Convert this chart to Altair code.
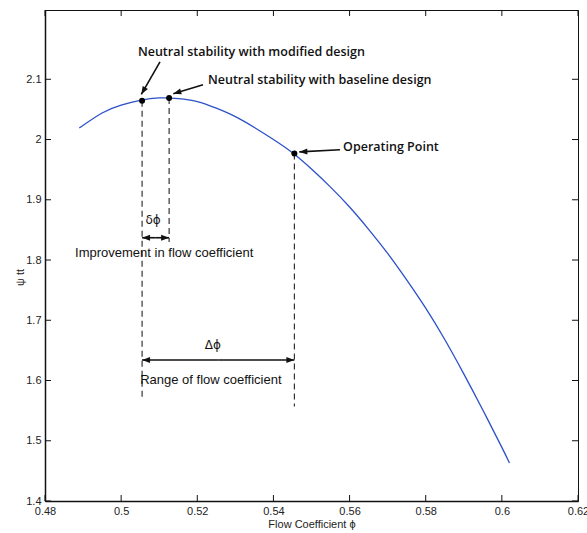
import math
import altair as alt
import pandas as pd

# Total-to-total pressure rise characteristic vs. flow coefficient
phi = [0.489, 0.495, 0.500, 0.505, 0.510, 0.515, 0.520, 0.525, 0.530, 0.535,
       0.540, 0.545, 0.550, 0.555, 0.560, 0.565, 0.570, 0.575, 0.580, 0.585,
       0.590, 0.595, 0.600, 0.602]
psi = [2.019, 2.044, 2.057, 2.065, 2.069, 2.068, 2.063, 2.052, 2.038, 2.020,
       2.000, 1.978, 1.951, 1.921, 1.888, 1.851, 1.811, 1.767, 1.720, 1.668,
       1.611, 1.551, 1.489, 1.463]

# Key operating conditions: modified design, baseline design, operating point
marker_phi = [0.5055, 0.5126, 0.5455]
marker_psi = [2.0645, 2.069, 1.977]
# lower ends of the dashed guide lines
guide_end = [1.570, 1.830, 1.557]

x_ticks = [0.48, 0.50, 0.52, 0.54, 0.56, 0.58, 0.60, 0.62]
y_ticks = [1.4, 1.5, 1.6, 1.7, 1.8, 1.9, 2.0, 2.1]

W, H = 533, 491
XDOM = [0.48, 0.62]
YDOM = [1.4, 2.215]

xs = alt.Scale(domain=XDOM, nice=False, zero=False)
ys = alt.Scale(domain=YDOM, nice=False, zero=False)

X_AXIS = alt.Axis(values=x_ticks, format=".2~f", ticks=False, grid=False,
                  title="Flow Coefficient ϕ", labelFontSize=11,
                  titleFontSize=11, titleFontWeight="normal",
                  labelPadding=4, titlePadding=2, labelFlush=False,
                  domainColor="#111", domainWidth=1.5,
                  labelColor="#222", titleColor="#222")
Y_AXIS = alt.Axis(values=y_ticks, format=".1~f", ticks=False, grid=False,
                  title="ψ tt", labelFontSize=11, titleFontSize=11,
                  titleFontWeight="normal", labelPadding=4,
                  titleAngle=270, titleX=-25, titleY=267,
                  titleAlign="center", titleBaseline="middle",
                  labelFlush=False, domainColor="#111", domainWidth=1.5,
                  labelColor="#222", titleColor="#222")

curve = pd.DataFrame({"phi": phi, "psi": psi})
markers = pd.DataFrame({"phi": marker_phi, "psi": marker_psi, "end": guide_end})


def to_px(x, y):
    return ((x - XDOM[0]) / (XDOM[1] - XDOM[0]) * W,
            (YDOM[1] - y) / (YDOM[1] - YDOM[0]) * H)


def head_angle(x0, y0, x1, y1):
    (a, b), (c, d) = to_px(x0, y0), to_px(x1, y1)
    return math.degrees(math.atan2(c - a, -(d - b))) % 360


# arrows: tail -> tip (heads drawn at the tip)
arrow_rows = [
    (0.5102, 2.129, 0.5053, 2.075),
    (0.5215, 2.091, 0.5137, 2.076),
    (0.5575, 1.983, 0.5468, 1.9795),
    # double-headed span arrows
    (0.5091, 1.837, marker_phi[0], 1.837),
    (0.5091, 1.837, marker_phi[1], 1.837),
    (0.5255, 1.634, marker_phi[0], 1.634),
    (0.5255, 1.634, marker_phi[2], 1.634),
]
arrows = pd.DataFrame(
    [{"x": a, "y": c, "x2": e, "y2": f, "ang": head_angle(a, c, e, f)}
     for a, c, e, f in arrow_rows]
)

labels_top = pd.DataFrame({
    "x": [0.5044, 0.5228, 0.5583],
    "y": [2.1458, 2.0993, 1.988],
    "t": ["Neutral stability with modified design",
          "Neutral stability with baseline design",
          "Operating Point"],
})
labels_plain = pd.DataFrame({
    "x": [0.4879, 0.5050],
    "y": [1.812, 1.601],
    "t": ["Improvement in flow coefficient", "Range of flow coefficient"],
})
labels_greek = pd.DataFrame({
    "x": [0.5084, 0.5241],
    "y": [1.867, 1.659],
    "t": ["δϕ", "Δϕ"],
})


def X(f="x"):
    return alt.X(f"{f}:Q", scale=xs, axis=X_AXIS)


def Y(f="y"):
    return alt.Y(f"{f}:Q", scale=ys, axis=Y_AXIS)


line = alt.Chart(curve).mark_line(
    color="#2c50c8", strokeWidth=1.3, interpolate="natural"
).encode(x=X("phi"), y=Y("psi"))

guides = alt.Chart(markers).mark_rule(
    color="#222", strokeDash=[6, 4], strokeWidth=1.1
).encode(x=X("phi"), y=Y("psi"), y2="end:Q")

points = alt.Chart(markers).mark_circle(size=36, color="black", opacity=1).encode(
    x=X("phi"), y=Y("psi"))

shafts = alt.Chart(arrows).mark_rule(color="#111", strokeWidth=1.6).encode(
    x=X(), y=Y(), x2="x2:Q", y2="y2:Q")

heads = alt.Chart(arrows).mark_point(
    shape="M0,0L-0.75,2L0.75,2Z", size=64, filled=True, color="#111", opacity=1
).encode(x=X("x2"), y=Y("y2"), angle=alt.Angle("ang:Q", scale=None))

txt_top = alt.Chart(labels_top).mark_text(
    align="left", baseline="middle", font="Open Sans", fontSize=12.5,
    fontWeight=600, color="#111"
).encode(x=X(), y=Y(), text="t:N")

txt_plain = alt.Chart(labels_plain).mark_text(
    align="left", baseline="middle", font="Liberation Sans", fontSize=13,
    color="#111"
).encode(x=X(), y=Y(), text="t:N")

txt_greek = alt.Chart(labels_greek).mark_text(
    align="center", baseline="middle", font="DejaVu Sans", fontSize=12,
    color="#111"
).encode(x=X(), y=Y(), text="t:N")

# inward tick marks on all four sides
xt = pd.DataFrame({"v": x_ticks})
yt = pd.DataFrame({"v": y_ticks})
tk = dict(color="#111", strokeWidth=1)
ticks = [
    alt.Chart(xt).mark_rule(**tk).encode(x=X("v"), y=alt.value(H), y2=alt.value(H - 6)),
    alt.Chart(xt).mark_rule(**tk).encode(x=X("v"), y=alt.value(0), y2=alt.value(6)),
    alt.Chart(yt).mark_rule(**tk).encode(y=Y("v"), x=alt.value(0), x2=alt.value(6)),
    alt.Chart(yt).mark_rule(**tk).encode(y=Y("v"), x=alt.value(W), x2=alt.value(W - 6)),
]

chart = alt.layer(
    line, guides, points, shafts, heads, txt_top, txt_plain, txt_greek, *ticks
).properties(
    width=W, height=H,
    autosize=alt.AutoSizeParams(type="none"),
    padding={"left": 45, "top": 10, "right": 9, "bottom": 32},
).configure(
    font="Liberation Sans", background="white"
).configure_view(
    stroke="#111", strokeWidth=1
)

chart.save("out.html", embed_options={"renderer": "svg", "actions": False})
